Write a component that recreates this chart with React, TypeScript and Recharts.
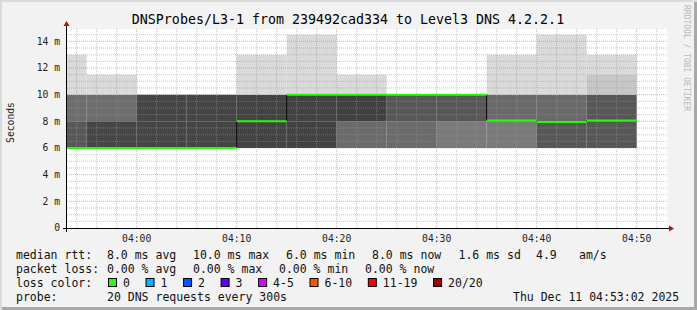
import { ComposedChart, Bar, Cell, XAxis, YAxis, ReferenceLine } from "recharts";

const MONO = "'DejaVu Sans Mono', monospace";

// one entry per 5 minute step, end of step in minutes since midnight
const stepEnds = [235, 240, 245, 250, 255, 260, 265, 270, 275, 280, 285, 290];
const medianRtt = [6, 6, 6, 6, 8, 10, 10, 10, 10, 8.07, 7.95, 8.07];

// smoke boundaries (ms)
const smokeBottom = [6, 6, 6, 6, 6, 6, 6, 6, 6, 6, 6, 6];
const smokeLow = [8, 8, 8, 8, 8, 8, 8, 8, 8, 8, 8, 8];
const smokeMid = [10, 10, 10, 10, 10, 10, 10, 10, 10, 10, 10, 10];
const smokeHigh = [13, 11.5, 10, 10, 13, 14.5, 11.5, 10, 10, 13, 14.5, 11.5];
const smokeTop = [13, 11.5, 10, 10, 13, 14.5, 11.5, 10, 10, 13, 14.5, 13];

// smoke shades per step
const shadeA = ["#585858", "#464646", "#454545", "#454545", "#434343", "#424242", "#6b6b6b", "#6b6b6b", "#7a7a7a", "#7a7a7a", "#575757", "#575757"];
const shadeB = ["#6d6d6d", "#6d6d6d", "#454545", "#454545", "#434343", "#424242", "#404040", "#575757", "#575757", "#6a6a6a", "#6a6a6a", "#575757"];
const shadeC = ["#dadada", "#dadada", "#dadada", "#dadada", "#dadada", "#dadada", "#dadada", "#dadada", "#dadada", "#dadada", "#dadada", "#c7c7c7"];
const shadeD = ["#dadada", "#dadada", "#dadada", "#dadada", "#dadada", "#dadada", "#dadada", "#dadada", "#dadada", "#dadada", "#dadada", "#dadada"];

const xTicks = [240, 250, 260, 270, 280, 290];
const yTicks = [0, 2, 4, 6, 8, 10, 12, 14];

const title = "DNSProbes/L3-1 from 239492cad334 to Level3 DNS 4.2.2.1";
const rttStats = ["8.0 ms avg", "10.0 ms max", "6.0 ms min", "8.0 ms now", "1.6 ms sd", "4.9", "am/s"];
const lossStats = ["0.00 % avg", "0.00 % max", "0.00 % min", "0.00 % now"];
const lossLabels = ["0", "1", "2", "3", "4-5", "6-10", "11-19", "20/20"];
const lossColors = ["#26ff00", "#00b8ff", "#0059ff", "#5e00ff", "#dd00ff", "#ff5500", "#ff0000", "#a10000"];
const probeText = "20 DNS requests every 300s";
const stamp = "Thu Dec 11 04:53:02 2025";

const START = 233 + 2 / 60;
const END = START + 60;

const rows = stepEnds.map((t, i) => ({
  t: t - 2.5,
  base: smokeBottom[i],
  a: smokeLow[i] - smokeBottom[i],
  b: smokeMid[i] - smokeLow[i],
  c: smokeHigh[i] - smokeMid[i],
  d: smokeTop[i] - smokeHigh[i],
}));

const fmtTime = (m: number) => {
  const h = Math.floor(m / 60);
  const mm = m % 60;
  return `${String(h).padStart(2, "0")}:${String(mm).padStart(2, "0")}`;
};

const vGrid: number[] = [];
for (let m = 234; m < END; m += 2) vGrid.push(m);
const hGrid: number[] = [];
for (let v = 0.5; v <= 15; v += 0.5) hGrid.push(v);

const MINOR = "rgba(150,150,150,0.55)";
const MAJOR = "rgba(205,70,70,0.45)";

// legend layout
const rttX = [107, 193, 286, 372, 458.5, 536, 579];
const lossX = [107, 193, 279, 365];
const CH = 6.93;

export default function App() {
  let bx = 108;
  const boxes = lossLabels.map((lab, i) => {
    const x = bx;
    bx = x + 15 + lab.length * CH + 15.6;
    return { x, lab, color: lossColors[i] };
  });

  return (
    <div
      style={{
        position: "absolute",
        left: 0,
        top: 0,
        width: 697,
        height: 310,
        background: "#f2f2f2",
        boxShadow: "inset 2px 2px 0 #dadada, inset -3px -3px 0 #a8a8a8",
      }}
    >
      <div style={{ position: "absolute", left: 67, top: 28, width: 600, height: 200, background: "#fff" }} />
      <div style={{ position: "absolute", left: 0, top: 0 }}>
        <ComposedChart
          width={697}
          height={310}
          data={rows}
          margin={{ top: 28, right: 30, bottom: 62, left: 10 }}
          barCategoryGap={0}
          barGap={0}
        >
          <XAxis
            dataKey="t"
            type="number"
            domain={[START, END]}
            allowDataOverflow
            ticks={xTicks}
            tickFormatter={fmtTime}
            height={20}
            tickLine={false}
            axisLine={false}
            tickSize={3}
            tickMargin={4}
            tick={{ fill: "#222", fontSize: 9.7, fontFamily: MONO }}
          />
          <YAxis
            type="number"
            domain={[0, 15]}
            allowDataOverflow
            ticks={yTicks}
            tickFormatter={(v: number) => (v === 0 ? "0" : `${v} m`)}
            width={57}
            tickLine={false}
            axisLine={false}
            tickSize={3}
            tickMargin={4}
            tick={{ fill: "#222", fontSize: 9.7, fontFamily: MONO }}
          />
          <Bar dataKey="base" stackId="s" fill="transparent" isAnimationActive={false} />
          <Bar dataKey="a" stackId="s" isAnimationActive={false}>
            {rows.map((_, i) => (
              <Cell key={i} fill={shadeA[i]} />
            ))}
          </Bar>
          <Bar dataKey="b" stackId="s" isAnimationActive={false}>
            {rows.map((_, i) => (
              <Cell key={i} fill={shadeB[i]} />
            ))}
          </Bar>
          <Bar dataKey="c" stackId="s" isAnimationActive={false}>
            {rows.map((_, i) => (
              <Cell key={i} fill={shadeC[i]} />
            ))}
          </Bar>
          <Bar dataKey="d" stackId="s" isAnimationActive={false}>
            {rows.map((_, i) => (
              <Cell key={i} fill={shadeD[i]} />
            ))}
          </Bar>
          {hGrid.map((v) => (
            <ReferenceLine
              key={`h${v}`}
              y={v}
              stroke={v % 2 === 0 ? MAJOR : MINOR}
              strokeDasharray="1 1"
              ifOverflow="hidden"
            />
          ))}
          {vGrid.map((m) => (
            <ReferenceLine
              key={`v${m}`}
              x={m}
              stroke={m % 10 === 0 ? MAJOR : MINOR}
              strokeDasharray="1 1"
              ifOverflow="hidden"
            />
          ))}
          {medianRtt.map((m, i) =>
            i > 0 && m !== medianRtt[i - 1] ? (
              <ReferenceLine
                key={`j${i}`}
                segment={[
                  { x: stepEnds[i - 1], y: medianRtt[i - 1] },
                  { x: stepEnds[i - 1], y: m },
                ]}
                stroke="#000"
                strokeWidth={1}
                ifOverflow="hidden"
              />
            ) : null
          )}
          {medianRtt.map((m, i) => (
            <ReferenceLine
              key={`m${i}`}
              segment={[
                { x: stepEnds[i] - 5, y: m },
                { x: stepEnds[i], y: m },
              ]}
              stroke="#20ff00"
              strokeWidth={2}
              ifOverflow="hidden"
            />
          ))}
        </ComposedChart>
      </div>
      <svg
        width={697}
        height={310}
        style={{ position: "absolute", left: 0, top: 0, pointerEvents: "none" }}
      >
        {/* axes with arrows */}
        <line x1={63} y1={228.5} x2={669} y2={228.5} stroke="#000" strokeWidth={1} />
        <line x1={66.5} y1={232} x2={66.5} y2={26} stroke="#000" strokeWidth={1} />
        <polygon points="669,225.5 669,231.5 674,228.5" fill="#a01818" />
        <polygon points="63.5,26 69.5,26 66.5,21" fill="#a01818" />

        <text x={348} y={24} textAnchor="middle" fontFamily={MONO} fontSize={13.3} fill="#000">
          {title}
        </text>
        <text
          x={10}
          y={122.5}
          transform="rotate(-90 10 122.5)"
          textAnchor="middle"
          dominantBaseline="central"
          fontFamily={MONO}
          fontSize={9.7}
          fill="#222"
        >
          Seconds
        </text>
        <text
          x={684}
          y={5}
          transform="rotate(90 684 5)"
          fontFamily={MONO}
          fontSize={8}
          fill="#b8b8b8"
        >
          RRDTOOL / TOBI OETIKER
        </text>

        <g fontFamily={MONO} fontSize={11.5} fill="#111">
          <text x={16} y={258.7}>median rtt:</text>
          {rttStats.map((s, i) => (
            <text key={s} x={rttX[i]} y={258.7}>
              {s}
            </text>
          ))}
          <text x={16} y={272.7}>packet loss:</text>
          {lossStats.map((s, i) => (
            <text key={s} x={lossX[i]} y={272.7}>
              {s}
            </text>
          ))}
          <text x={16} y={286.6}>loss color:</text>
          {boxes.map((b) => (
            <g key={b.lab}>
              <rect x={b.x + 0.5} y={278.5} width={8} height={8} fill={b.color} stroke="#000" strokeWidth={1} />
              <text x={b.x + 15} y={286.6}>
                {b.lab}
              </text>
            </g>
          ))}
          <text x={16} y={300.5}>probe:</text>
          <text x={107} y={300.5}>{probeText}</text>
          <text x={513} y={300.5}>{stamp}</text>
        </g>
      </svg>
    </div>
  );
}
